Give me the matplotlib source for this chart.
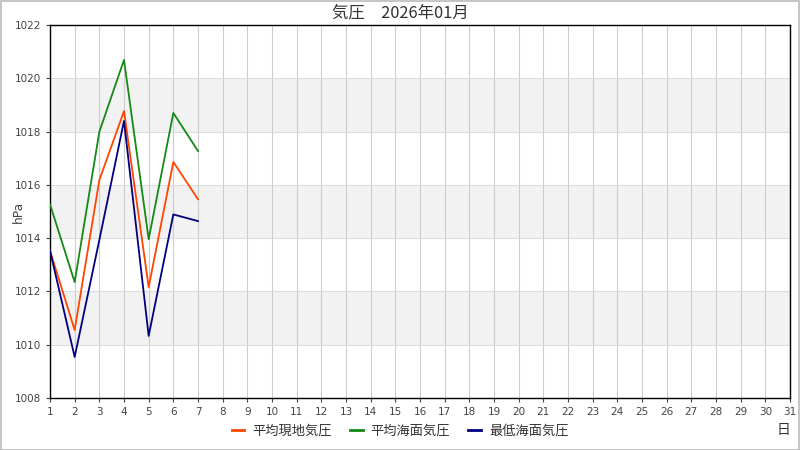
import matplotlib
matplotlib.use("Agg")
import matplotlib.pyplot as plt
from matplotlib.lines import Line2D

plt.rcParams['font.family'] = ['Noto Sans CJK JP', 'DejaVu Sans']

days = list(range(1, 8))
avg_station = [1013.53, 1010.55, 1016.18, 1018.77, 1012.16, 1016.86, 1015.46]
avg_sea = [1015.27, 1012.35, 1017.99, 1020.69, 1013.96, 1018.70, 1017.27]
min_sea = [1013.53, 1009.54, 1013.93, 1018.40, 1010.33, 1014.89, 1014.64]
series_names = ['平均現地気圧', '平均海面気圧', '最低海面気圧']
series_colors = ['#ff4500', '#138a13', '#000080']
x_ticks = list(range(1, 32))
y_ticks = list(range(1008, 1023, 2))
shaded_bands = [(1010, 1012), (1014, 1016), (1018, 1020)]

fig = plt.figure(figsize=(8, 4.5), dpi=100)
fig.patch.set_facecolor('white')
fig.add_artist(plt.Rectangle((0.001, 0.001), 0.998, 0.997, transform=fig.transFigure,
                             fill=False, edgecolor='#bbbbbb', linewidth=1.2))

ax = fig.add_axes([0.0625, 0.1156, 0.925, 0.8288])
for lo, hi in shaded_bands:
    ax.axhspan(lo, hi, color='#f2f2f2', zorder=0, linewidth=0)

for vals, name, c in zip([avg_station, avg_sea, min_sea], series_names, series_colors):
    ax.plot(days, vals, color=c, linewidth=1.3, label=name, zorder=3)

ax.set_xlim(1, 31)
ax.set_ylim(1008, 1022)
ax.set_xticks(x_ticks)
ax.set_yticks(y_ticks)
ax.grid(True, axis='x', color='#cccccc', linewidth=0.8, zorder=1)
ax.grid(True, axis='y', color='#dddddd', linewidth=0.8, zorder=1)
ax.tick_params(axis='both', labelsize=7.5, colors='#444444', length=3)
for lab in ax.get_xticklabels() + ax.get_yticklabels():
    lab.set_family('DejaVu Sans')
for s in ax.spines.values():
    s.set_color('black')
    s.set_linewidth(1.0)

fig.text(0.023, 0.529, 'hPa', rotation=90, ha='center', va='center', fontsize=8.8,
         color='#444444', family='DejaVu Sans')
fig.text(0.5, 0.971, '気圧　2026年01月', ha='center', va='center', fontsize=11.8, color='#333333')
fig.text(0.979, 0.044, '日', ha='center', va='center', fontsize=10, color='#333333')

handles = [Line2D([0], [0], color=c, linewidth=2) for c in series_colors]
fig.legend(handles, series_names, loc='center', bbox_to_anchor=(0.5, 0.041), ncol=3,
           frameon=False, fontsize=9.5, handlelength=0.95, columnspacing=1.4, handletextpad=0.6,
           labelcolor='#333333')

fig.savefig('out.png', dpi=100)
